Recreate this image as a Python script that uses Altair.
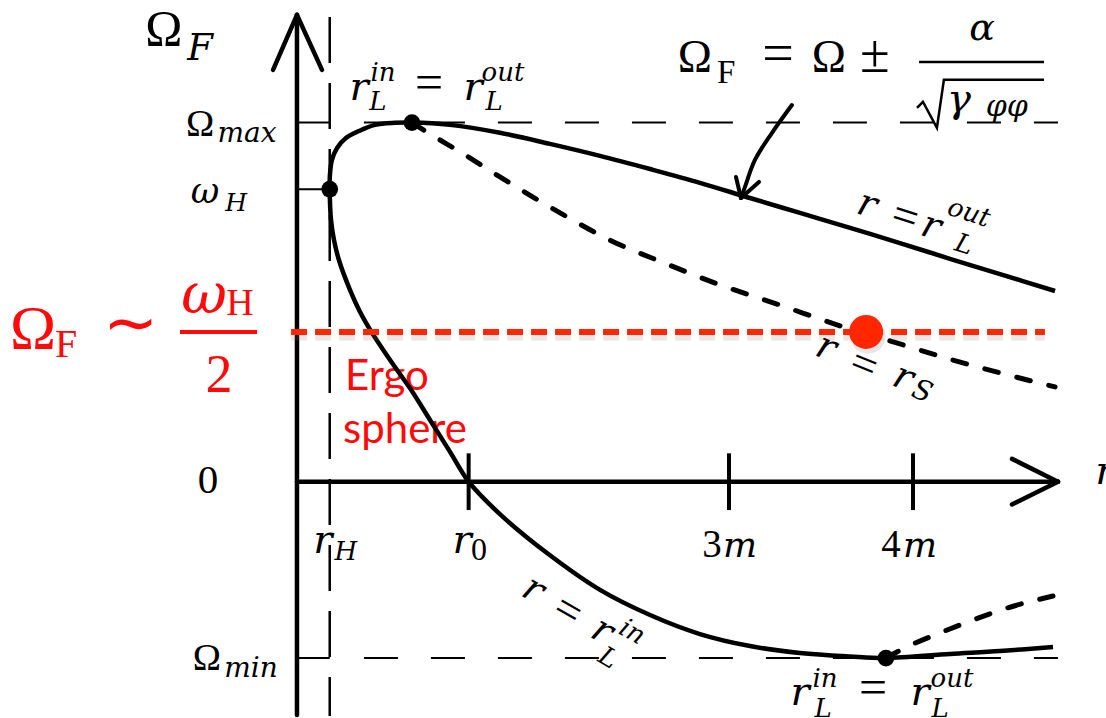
import altair as alt
import pandas as pd

WIDTH, HEIGHT = 1106, 718
R_DOMAIN = [-0.962, 5.049]      # r, in units of m
W_DOMAIN = [-0.808, 1.647]      # Omega_F, in units of omega_H

# landmarks of the diagram
r_H = 0.83
r_0 = 1.585
r_ticks = [r_0, 3.0, 4.0]
omega_H = 1.0
omega_max = 1.228
omega_min = -0.603
omega_half = 0.512          # Omega_F ~ omega_H / 2
r_cross = 3.745             # where Omega_F ~ omega_H/2 meets r = r_S
r_axis = 0.652              # position of the Omega_F axis
r_tip = 4.788               # tip of the r axis arrow
w_top, w_bottom = 1.596, -0.798
r_at_max, r_at_min = 1.277, 3.853

# light surface r = r_L (inner branch up to the horizon, then the outer branch)
light_r = [4.761, 4.473, 4.201, 3.853, 3.658, 3.386, 3.114, 2.842, 2.571, 2.299,
           2.011, 1.755, 1.585, 1.484, 1.375, 1.272, 1.158, 1.054, 0.995, 0.940,
           0.880, 0.853, 0.837, 0.832, 0.830, 0.831, 0.842, 0.870, 0.918, 0.989,
           1.076, 1.185, 1.277, 1.484, 1.755, 2.027, 2.299, 2.571, 2.842, 3.114,
           3.386, 3.658, 3.929, 4.201, 4.473, 4.772]
light_w = [-0.565, -0.579, -0.589, -0.603, -0.598, -0.586, -0.562, -0.521, -0.456, -0.370,
           -0.244, -0.111, 0.000, 0.102, 0.211, 0.314, 0.416, 0.515, 0.580, 0.656,
           0.758, 0.827, 0.895, 0.946, 1.000, 1.048, 1.100, 1.141, 1.175, 1.199,
           1.220, 1.227, 1.228, 1.220, 1.193, 1.155, 1.114, 1.069, 1.022, 0.970,
           0.919, 0.868, 0.816, 0.762, 0.710, 0.652]

# separatrix r = r_S
rs_r = [1.277, 1.375, 1.538, 1.755, 2.082, 2.353, 2.647, 2.951, 3.277, 3.603, 3.929, 4.217, 4.473, 4.772]
rs_w = [1.228, 1.189, 1.128, 1.042, 0.919, 0.826, 0.748, 0.673, 0.604, 0.533, 0.471, 0.416, 0.372, 0.324]

# lower dashed branch beyond Omega_min
low_r = [3.853, 3.967, 4.147, 4.326, 4.511, 4.761]
low_w = [-0.603, -0.565, -0.517, -0.473, -0.432, -0.391]

# pointer from the formula to the curve
ptr_r = [3.342, 3.234, 3.141, 3.087, 3.065]
ptr_w = [1.288, 1.193, 1.100, 1.008, 0.970]

# radical sign of the formula
rad_r = [4.022, 4.054, 4.130, 4.168, 4.712]
rad_w = [1.278, 1.299, 1.210, 1.374, 1.374]

BLACK = "#000000"
RED_LINE = "#ff2600"
RED_TEXT = "#fe0a0a"
SERIF = "Liberation Serif"
SERIF_IT = "DejaVu Serif"


def xe(f="r"):
    return alt.X(f"{f}:Q", scale=alt.Scale(domain=R_DOMAIN, nice=False, zero=False), axis=None)


def ye(f="w"):
    return alt.Y(f"{f}:Q", scale=alt.Scale(domain=W_DOMAIN, nice=False, zero=False), axis=None)


def seg_layer(rows, **mark):
    df = pd.DataFrame(rows, columns=["r", "w", "r2", "w2"])
    return alt.Chart(df).mark_rule(**mark).encode(
        x=xe(), y=ye(), x2=alt.X2("r2:Q"), y2=alt.Y2("w2:Q"))


def path_layer(rs, ws, **mark):
    df = pd.DataFrame({"r": rs, "w": ws, "i": list(range(len(rs)))})
    return alt.Chart(df).mark_line(**mark).encode(x=xe(), y=ye(), order="i:Q")


# axes
axes = seg_layer([
    (r_axis, w_bottom, r_axis, w_top),
    (0.522, 1.408, r_axis, w_top),
    (0.788, 1.408, r_axis, w_top),
    (r_axis, 0.0, r_tip, 0.0),
    (4.538, 0.078, r_tip, 0.0),
    (4.538, -0.078, r_tip, 0.0),
], color=BLACK, strokeWidth=4.5, strokeCap="round")
r_tick_marks = seg_layer([(r, 0.097, r, -0.097) for r in r_ticks], color=BLACK, strokeWidth=4)
w_stubs = seg_layer([(r_axis, w, r_H, w) for w in [omega_max, omega_H, omega_min]],
                    color=BLACK, strokeWidth=2)
horizon = seg_layer([(r_H, 1.589, r_H, -0.801)], color=BLACK, strokeWidth=2.5, strokeDash=[46, 20])
levels = seg_layer([(1.016, w, r_tip, w) for w in [omega_max, omega_min]],
                   color=BLACK, strokeWidth=2, strokeDash=[34, 33])

# curves
light = path_layer(light_r, light_w, color=BLACK, strokeWidth=4.5, interpolate="catmull-rom")
sep = path_layer(rs_r, rs_w, color=BLACK, strokeWidth=5, interpolate="monotone",
                 strokeDash=[14, 19], strokeCap="round")
low = path_layer(low_r, low_w, color=BLACK, strokeWidth=5, interpolate="monotone",
                 strokeDash=[14, 19], strokeCap="round")

# pointer arrow
pointer = path_layer(ptr_r, ptr_w, color=BLACK, strokeWidth=4, interpolate="catmull-rom", strokeCap="round")
pointer_head = seg_layer([(3.038, 1.042, 3.065, 0.970), (3.163, 1.025, 3.065, 0.970)],
                         color=BLACK, strokeWidth=4, strokeCap="round")

# formula decorations
frac_bar = seg_layer([(4.033, 1.435, 4.712, 1.435)], color=BLACK, strokeWidth=2.5)
radical = path_layer(rad_r, rad_w, color=BLACK, strokeWidth=2.5, strokeJoin="miter")
red_bar = seg_layer([(0.016, omega_half, 0.435, omega_half)], color=RED_TEXT, strokeWidth=4)

# Omega_F ~ omega_H/2 level, with its soft shadow
shadow = seg_layer([(0.620, omega_half - 0.014, 4.717, omega_half - 0.014)],
                   color="#808080", strokeWidth=9, opacity=0.18, strokeDash=[16, 8])
red_level = seg_layer([(0.620, omega_half, 4.717, omega_half)],
                      color=RED_LINE, strokeWidth=6, strokeDash=[16, 8])

dots = alt.Chart(pd.DataFrame({"r": [r_at_max, r_H, r_at_min],
                               "w": [omega_max, omega_H, omega_min]})).mark_point(
    filled=True, shape="circle", size=280, color=BLACK, opacity=1).encode(x=xe(), y=ye())
red_dot_shadow = alt.Chart(pd.DataFrame({"r": [r_cross + 0.01], "w": [omega_half - 0.014]})).mark_point(
    filled=True, shape="circle", size=1250, color="#808080", opacity=0.2).encode(x=xe(), y=ye())
red_dot = alt.Chart(pd.DataFrame({"r": [r_cross], "w": [omega_half]})).mark_point(
    filled=True, shape="circle", size=1150, color=RED_LINE, opacity=1).encode(x=xe(), y=ye())

# text pieces: (text, r, w, size, kind, angle, color, baseline)
K = BLACK
texts = [
    # axis label Omega_F
    ("Ω", -0.071, 1.494, 50, "rm", 0, K, "alphabetic"),
    ("F", 0.125, 1.442, 37, "it", 0, K, "alphabetic"),
    # Omega_max, omega_H, 0, Omega_min
    ("Ω", 0.125, 1.182, 38, "rm", 0, K, "alphabetic"),
    ("max", 0.380, 1.162, 28, "it", 0, K, "alphabetic"),
    ("ω", 0.152, 0.953, 35, "it", 0, K, "alphabetic"),
    ("H", 0.321, 0.926, 25, "it", 0, K, "alphabetic"),
    ("0", 0.168, -0.039, 41, "rm", 0, K, "alphabetic"),
    ("Ω", 0.163, -0.644, 38, "rm", 0, K, "alphabetic"),
    ("min", 0.402, -0.668, 28, "it", 0, K, "alphabetic"),
    # r axis labels
    ("r", 0.793, -0.244, 40, "it", 0, K, "alphabetic"),
    ("H", 0.918, -0.268, 26, "it", 0, K, "alphabetic"),
    ("r", 1.549, -0.244, 40, "it", 0, K, "alphabetic"),
    ("0", 1.641, -0.268, 32, "rm", 0, K, "alphabetic"),
    ("3", 2.908, -0.258, 39, "rm", 0, K, "alphabetic"),
    ("m", 3.060, -0.258, 36, "it", 0, K, "alphabetic"),
    ("4", 3.880, -0.258, 39, "rm", 0, K, "alphabetic"),
    ("m", 4.038, -0.258, 36, "it", 0, K, "alphabetic"),
    ("r", 5.043, -0.008, 40, "it", 0, K, "alphabetic"),
    # r_L^in = r_L^out at Omega_max
    ("r", 0.989, 1.305, 40, "it", 0, K, "alphabetic"),
    ("in", 1.120, 1.370, 26, "it", 0, K, "alphabetic"),
    ("L", 1.092, 1.272, 26, "it", 0, K, "alphabetic"),
    ("=", 1.370, 1.309, 50, "rm", 0, K, "alphabetic"),
    ("r", 1.609, 1.305, 40, "it", 0, K, "alphabetic"),
    ("out", 1.772, 1.370, 26, "it", 0, K, "alphabetic"),
    ("L", 1.723, 1.272, 26, "it", 0, K, "alphabetic"),
    # r_L^in = r_L^out at Omega_min
    ("r", 3.386, -0.764, 40, "it", 0, K, "alphabetic"),
    ("in", 3.522, -0.703, 26, "it", 0, K, "alphabetic"),
    ("L", 3.511, -0.805, 26, "it", 0, K, "alphabetic"),
    ("=", 3.783, -0.760, 50, "rm", 0, K, "alphabetic"),
    ("r", 4.038, -0.764, 40, "it", 0, K, "alphabetic"),
    ("out", 4.212, -0.703, 26, "it", 0, K, "alphabetic"),
    ("L", 4.147, -0.805, 26, "it", 0, K, "alphabetic"),
    # r = r_L^out along the outer branch
    ("r", 3.750, 0.946, 38, "it", 18, K, "middle"),
    ("=", 3.957, 0.905, 46, "rm", 18, K, "middle"),
    ("r", 4.098, 0.871, 38, "it", 18, K, "middle"),
    ("out", 4.304, 0.919, 26, "it", 18, K, "middle"),
    ("L", 4.277, 0.810, 26, "it", 18, K, "middle"),
    # r = r_S
    ("r", 3.527, 0.457, 38, "it", 22, K, "middle"),
    ("=", 3.734, 0.399, 46, "rm", 22, K, "middle"),
    ("r", 3.946, 0.355, 38, "it", 22, K, "middle"),
    ("S", 4.049, 0.307, 28, "it", 22, K, "middle"),
    # r = r_L^in
    ("r", 1.935, -0.370, 38, "it", 30, K, "middle"),
    ("=", 2.125, -0.442, 46, "rm", 30, K, "middle"),
    ("r", 2.310, -0.511, 38, "it", 30, K, "middle"),
    ("in", 2.473, -0.514, 26, "it", 30, K, "middle"),
    ("L", 2.342, -0.603, 26, "it", 30, K, "middle"),
    # Omega_F = Omega +- alpha / sqrt(gamma_phiphi)
    ("Ω", 2.815, 1.401, 46, "rm", 0, K, "alphabetic"),
    ("F", 2.984, 1.364, 33, "rm", 0, K, "alphabetic"),
    ("=", 3.266, 1.401, 56, "rm", 0, K, "alphabetic"),
    ("Ω", 3.543, 1.401, 46, "rm", 0, K, "alphabetic"),
    ("±", 3.793, 1.401, 54, "rm", 0, K, "alphabetic"),
    ("α", 4.375, 1.511, 38, "it", 0, K, "alphabetic"),
    ("γ", 4.250, 1.264, 40, "it", 0, K, "alphabetic"),
    ("φφ", 4.510, 1.250, 30, "it", 0, K, "alphabetic"),
    # Omega_F ~ omega_H / 2
    ("Ω", -0.783, 0.457, 62, "rm", 0, RED_TEXT, "alphabetic"),
    ("F", -0.603, 0.426, 40, "rm", 0, RED_TEXT, "alphabetic"),
    ("∼", -0.255, 0.466, 66, "rm", 0, RED_TEXT, "alphabetic"),
    ("ω", 0.147, 0.577, 56, "it", 0, RED_TEXT, "alphabetic"),
    ("H", 0.342, 0.570, 38, "rm", 0, RED_TEXT, "alphabetic"),
    ("2", 0.228, 0.307, 54, "rm", 0, RED_TEXT, "alphabetic"),
]
tdf = pd.DataFrame(texts, columns=["t", "r", "w", "s", "kind", "a", "c", "base"])


def text_layer(df, font, style, baseline, align="center"):
    return alt.Chart(df).mark_text(font=font, fontStyle=style, align=align, baseline=baseline).encode(
        x=xe(), y=ye(), text="t:N",
        size=alt.Size("s:Q", scale=None),
        angle=alt.Angle("a:Q", scale=None),
        color=alt.Color("c:N", scale=None))


text_layers = []
for (kind, base), sub in tdf.groupby(["kind", "base"]):
    if kind == "it":
        text_layers.append(text_layer(sub.reset_index(drop=True), SERIF_IT, "italic", base))
    else:
        text_layers.append(text_layer(sub.reset_index(drop=True), SERIF, "normal", base))

ergo = pd.DataFrame({"t": ["Ergo", "sphere"], "r": [0.913, 0.902], "w": [0.314, 0.132],
                     "s": [42, 42], "a": [0, 0], "c": [RED_TEXT, RED_TEXT]})
ergo_layer = text_layer(ergo, "Lato", "normal", "alphabetic", align="left")

chart = alt.layer(
    horizon, levels, w_stubs, axes, r_tick_marks,
    ergo_layer,
    light, sep, low,
    pointer, pointer_head, frac_bar, radical, red_bar,
    shadow, red_level, dots, red_dot_shadow, red_dot,
    *text_layers,
).properties(
    width=WIDTH, height=HEIGHT, padding=0, autosize="none", background="white"
).configure_view(stroke=None)

chart.save("out.html", embed_options={"renderer": "svg", "actions": False})
